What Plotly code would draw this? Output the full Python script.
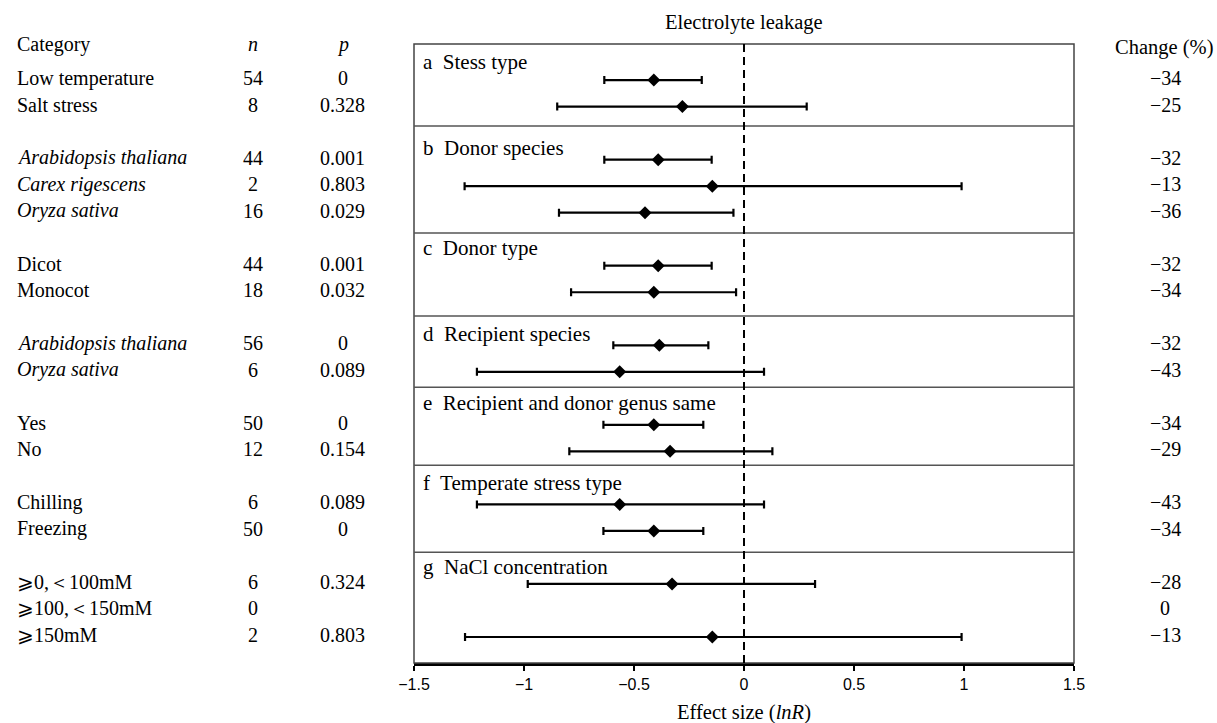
import plotly.graph_objects as go

# ---------------- data ----------------
group_letters = ["a", "b", "c", "d", "e", "f", "g"]
group_titles = ["Stess type", "Donor species", "Donor type", "Recipient species",
                "Recipient and donor genus same", "Temperate stress type", "NaCl concentration"]
group_sizes = [2, 3, 2, 2, 2, 2, 3]

categories = ["Low temperature", "Salt stress",
              "<i>Arabidopsis thaliana</i>", "<i>Carex rigescens</i>", "<i>Oryza sativa</i>",
              "Dicot", "Monocot",
              "<i>Arabidopsis thaliana</i>", "<i>Oryza sativa</i>",
              "Yes", "No",
              "Chilling", "Freezing",
              "⩾0,＜100mM", "⩾100,＜150mM", "⩾150mM"]
n_values = ["54", "8", "44", "2", "16", "44", "18", "56", "6", "50", "12", "6", "50", "6", "0", "2"]
p_values = ["0", "0.328", "0.001", "0.803", "0.029", "0.001", "0.032", "0", "0.089",
            "0", "0.154", "0.089", "0", "0.324", "", "0.803"]
effect = [-0.41, -0.28, -0.39, -0.144, -0.45, -0.39, -0.41, -0.385, -0.565,
          -0.41, -0.336, -0.565, -0.41, -0.327, None, -0.144]
ci_low = [-0.635, -0.849, -0.635, -1.27, -0.841, -0.635, -0.786, -0.594, -1.214,
          -0.639, -0.794, -1.214, -0.639, -0.983, None, -1.268]
ci_high = [-0.192, 0.285, -0.147, 0.989, -0.048, -0.147, -0.036, -0.162, 0.091,
           -0.185, 0.129, 0.091, -0.185, 0.323, None, 0.989]
change = ["−34", "−25", "−32", "−13", "−36", "−32", "−34", "−32", "−43",
          "−34", "−29", "−43", "−34", "−28", "0", "−13"]

# ---------------- layout of rows ----------------
rows = []
pos = 0
for gs in group_sizes:
    for k in range(gs):
        rows.append(pos)
        pos += 1
    pos += 1  # gap between groups

divider_pos = [1.73, 5.77, 8.9, 11.58, 14.52, 17.8]
label_pos = [-0.68, 2.56, 6.33, 9.58, 12.18, 15.2, 18.36]

SERIF = "Liberation Serif, Times New Roman, serif"

xs, ys, ep, em = [], [], [], []
for r, m, lo, hi in zip(rows, effect, ci_low, ci_high):
    if m is None:
        continue
    xs.append(m)
    ys.append(r)
    ep.append(hi - m)
    em.append(m - lo)

fig = go.Figure()
fig.add_trace(go.Scatter(
    x=xs, y=ys, mode="markers",
    marker=dict(symbol="diamond", size=10, color="black"),
    error_x=dict(type="data", symmetric=False, array=ep, arrayminus=em,
                 color="black", thickness=2.2, width=4),
    showlegend=False, hoverinfo="x+y",
))

shapes = []
shapes.append(dict(type="rect", xref="paper", yref="paper", x0=0, x1=1, y0=0, y1=1,
                   line=dict(color="#444444", width=1.5), layer="above"))
for d in divider_pos:
    shapes.append(dict(type="line", xref="paper", yref="y", x0=0, x1=1, y0=d, y1=d,
                       line=dict(color="#555555", width=1.5)))
shapes.append(dict(type="line", xref="x", yref="paper", x0=0, x1=0, y0=0, y1=1,
                   line=dict(color="black", width=2, dash="8px,5px")))

ann = []
def add_text(text, x, y, xref="paper", yref="y", xanchor="left", size=20, yshift=2):
    ann.append(dict(text=text, x=x, y=y, xref=xref, yref=yref, xanchor=xanchor,
                    yanchor="middle", showarrow=False, yshift=yshift,
                    font=dict(family=SERIF, size=size, color="black")))

add_text("Category", -0.6045, 1.0, yref="paper", size=20, yshift=0)
add_text("<i>n</i>", -0.244, 1.0, yref="paper", xanchor="center", size=20, yshift=0)
add_text("<i>p</i>", -0.1076, 1.0, yref="paper", xanchor="center", size=20, yshift=0)
add_text("Change (%)", 1.137, 0.994, yref="paper", xanchor="center", size=20.5, yshift=0)
add_text("Electrolyte leakage", 0.5, 1.034, yref="paper", xanchor="center", size=20.5, yshift=0)
add_text("Effect size (<i>lnR</i>)", 0.5, -0.08, yref="paper", xanchor="center", size=20.5, yshift=0)

for r, c, nv, pv, ch in zip(rows, categories, n_values, p_values, change):
    add_text(c, -0.6045, r)
    add_text(nv, -0.244, r, xanchor="center")
    add_text(pv, -0.1076, r, xanchor="center")
    add_text(ch, 1.138, r, xanchor="center")

for lt, tt, lp in zip(group_letters, group_titles, label_pos):
    add_text(lt + "  " + tt, 0.011, lp, size=21, yshift=0)

fig.update_layout(
    width=1217, height=723,
    margin=dict(l=414, r=143, t=44, b=60),
    paper_bgcolor="white", plot_bgcolor="white",
    shapes=shapes, annotations=ann,
    xaxis=dict(range=[-1.5, 1.5], tickvals=[-1.5, -1, -0.5, 0, 0.5, 1, 1.5],
               ticktext=["−1.5", "−1", "−0.5", "0", "0.5", "1", "1.5"],
               showgrid=False, zeroline=False, showline=True, linecolor="black", linewidth=3,
               ticks="outside", ticklen=5, tickwidth=2, tickcolor="black",
               tickfont=dict(family="Liberation Sans, Arial, sans-serif", size=16, color="black")),
    yaxis=dict(range=[21.98, -1.36], showgrid=False, zeroline=False, showticklabels=False,
               showline=False, ticks=""),
    showlegend=False,
)

fig.write_html("out.html")
